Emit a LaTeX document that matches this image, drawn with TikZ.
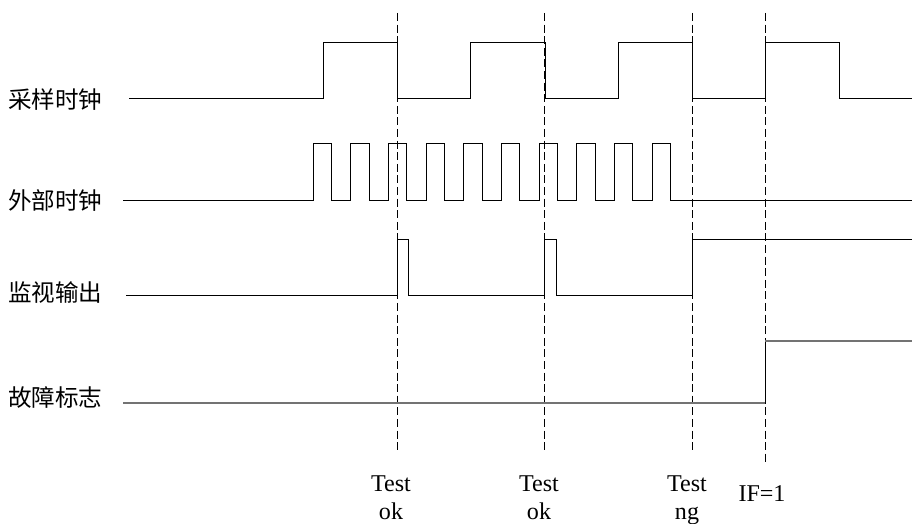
\documentclass[tikz,border=0pt]{standalone}
\usepackage{fontspec}
\setmainfont{Liberation Serif}
\newfontfamily\cjk{Noto Sans CJK SC}
\usetikzlibrary{positioning}
\tikzset{
  sig/.style={line width=0.55pt, black},
  flagsig/.style={line width=1pt, black!55},
  mark line/.style={line width=0.55pt, dash pattern=on 4.6pt off 2pt},
  siglabel/.style={anchor=west, inner sep=0pt, font=\cjk\fontsize{13.4}{15}\selectfont},
  testlabel/.style={align=center, inner sep=0pt, font=\fontsize{13.7}{15.4}\selectfont}
}
\begin{document}
\begin{tikzpicture}[x=0.2mm,y=0.2mm]
			\useasboundingbox (0,0) rectangle (912,523);
			% signal names
			\node [siglabel] (sclk) at (8,423) {采样时钟};
			\node [siglabel] (eclk) at (8,322) {外部时钟};
			\node [siglabel] (mon)  at (8,230) {监视输出};
			\node [siglabel] (flag) at (8,125) {故障标志};
			% test instants
			\draw [mark line] (397,510)--(397,71);
			\draw [mark line] (544,510)--(544,71);
			\draw [mark line] (692,510)--(692,71);
			\draw [mark line] (765,510)--(765,61);
			% sampling clock
			\draw [sig] (129,425) -| (323,481) -| (397,425) -| (470,481) -| (545,425)
				-| (618,481) -| (692,425) -| (765,481) -| (839,425) -- (912,425);
			% external clock
			\draw [sig] (123,323) \foreach \i in {0,...,9}{
				-- ({313+37.67*\i},323) -- ({313+37.67*\i},380)
				-- ({331.6+37.67*\i},380) -- ({331.6+37.67*\i},323)} -- (912,323);
			% monitor output
			\draw [sig] (126,228) -| (397,284) -| (408,228) -| (544,284) -| (556,228)
				-| (692,284) -- (912,284);
			% fault flag
			\draw [flagsig] (123,120) -- (765,120);
			\draw [sig] (765,120) -- (765,182);
			\draw [flagsig] (765,182) -- (912,182);
			% labels below (base = last line)
			\node [testlabel, anchor=base] (t1) at (391,4) {Test\\ok};
			\node [testlabel, anchor=base] (t2) at (539,4) {Test\\ok};
			\node [testlabel, anchor=base] (t3) at (687,4) {Test\\ng};
			\node [testlabel, anchor=base] (if) at (762,22) {IF=1};
		\end{tikzpicture}
\end{document}
